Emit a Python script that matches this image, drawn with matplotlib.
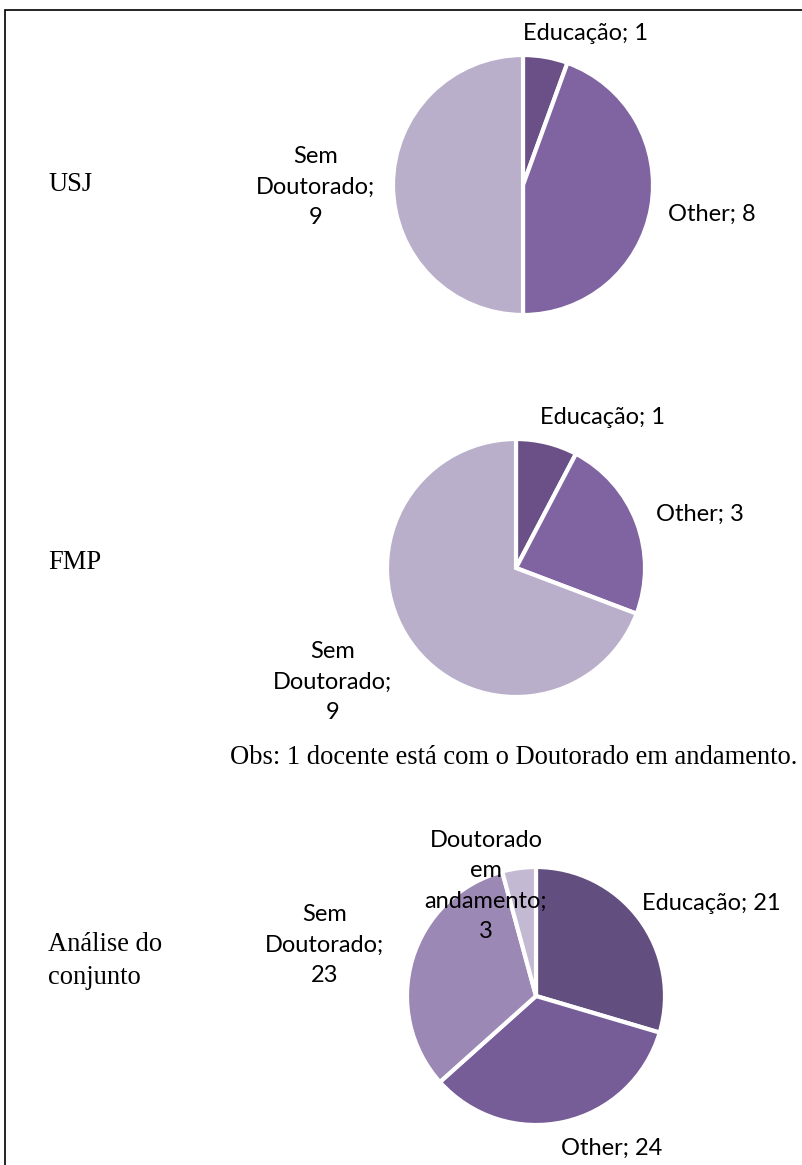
import matplotlib
matplotlib.use("Agg")
import matplotlib.pyplot as plt

W, H = 803, 1165

# Data
usj_labels = ["Educação", "Other", "Sem Doutorado"]
usj_values = [1, 8, 9]
fmp_labels = ["Educação", "Other", "Sem Doutorado"]
fmp_values = [1, 3, 9]
all_labels = ["Educação", "Other", "Sem Doutorado", "Doutorado em andamento"]
all_values = [21, 24, 23, 3]

usj_colors = ["#6a5087", "#8064a2", "#b9afca"]
fmp_colors = ["#6a5087", "#8064a2", "#b9afca"]
all_colors = ["#624e7f", "#775d98", "#9b88b4", "#c3b9d3"]

LABEL_FONT = ["Lato", "DejaVu Sans"]
SERIF_FONT = ["Liberation Serif", "DejaVu Serif"]

fig = plt.figure(figsize=(W / 100, H / 100), dpi=100)
ax = fig.add_axes([0, 0, 1, 1])


def Y(y):
    return H - y


def draw_pie(values, colors, center, radius, explode):
    ax.pie(values, colors=colors, center=(center[0], Y(center[1])), radius=radius,
           startangle=90, counterclock=False, explode=explode,
           wedgeprops=dict(edgecolor="white", linewidth=3))


draw_pie(usj_values, usj_colors, (523, 185), 130, [0, 0.02, 0])
draw_pie(fmp_values, fmp_colors, (516, 568), 129, [0, 0.02, 0])
draw_pie(all_values, all_colors, (536, 996), 129, [0, 0.01, 0, 0])

ax.set_xlim(0, W)
ax.set_ylim(0, H)
ax.set_aspect("equal")
ax.axis("off")

# frame
ax.plot([5.5, 5.5, W + 5], [Y(H + 5), Y(10), Y(10)], color="black", lw=1.2,
        solid_joinstyle="miter")

fs = 17
lsp = 1.55


def pie_label(x, y, name, val, wrap=None):
    if wrap is None:
        s = f"{name}; {val}"
    else:
        s = "\n".join(wrap) + f";\n{val}"
    ax.text(x, Y(y), s, ha="center", va="center", fontsize=fs, family=LABEL_FONT,
            linespacing=lsp, color="black")


# USJ
pie_label(586, 33, usj_labels[0], usj_values[0])
pie_label(712, 214, usj_labels[1], usj_values[1])
pie_label(316, 187, usj_labels[2], usj_values[2], wrap=["Sem", "Doutorado"])
# FMP
pie_label(603, 418, fmp_labels[0], fmp_values[0])
pie_label(700, 514, fmp_labels[1], fmp_values[1])
pie_label(333, 682, fmp_labels[2], fmp_values[2], wrap=["Sem", "Doutorado"])
# All
pie_label(711, 903, all_labels[0], all_values[0])
pie_label(612, 1148, all_labels[1], all_values[1])
pie_label(325, 945, all_labels[2], all_values[2], wrap=["Sem", "Doutorado"])
pie_label(486, 886, all_labels[3], all_values[3], wrap=["Doutorado", "em", "andamento"])

sfs = 19.1
ax.text(48, Y(185), "USJ", ha="left", va="center", fontsize=sfs, family=SERIF_FONT)
ax.text(48, Y(563), "FMP", ha="left", va="center", fontsize=sfs, family=SERIF_FONT)
ax.text(48, Y(961), "Análise do\nconjunto", ha="left", va="center", fontsize=sfs,
        family=SERIF_FONT, linespacing=1.38)
ax.text(230, Y(757), "Obs: 1 docente está com o Doutorado em andamento.", ha="left",
        va="center", fontsize=sfs, family=SERIF_FONT)

fig.savefig("out.png", dpi=100)
